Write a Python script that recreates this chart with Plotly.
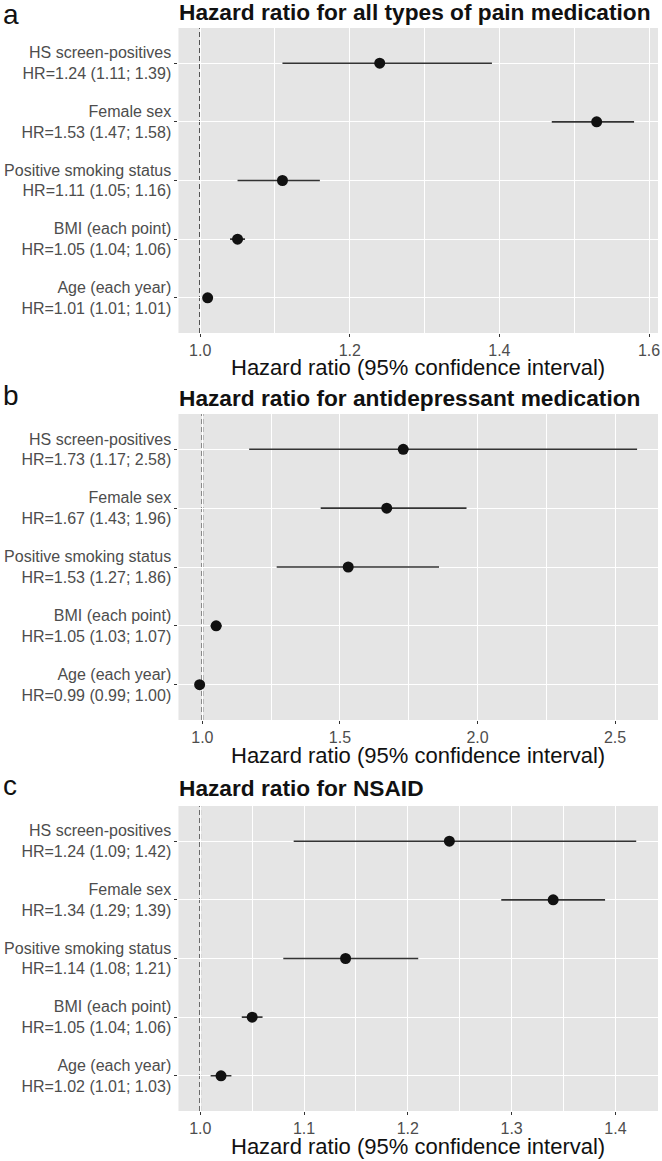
import plotly.graph_objects as go

W, H = 662, 1161

categories = [
    "HS screen-positives",
    "Female sex",
    "Positive smoking status",
    "BMI (each point)",
    "Age (each year)",
]

# Panel a: all types of pain medication
a_hr = [1.24, 1.53, 1.11, 1.05, 1.01]
a_lo = [1.11, 1.47, 1.05, 1.04, 1.01]
a_hi = [1.39, 1.58, 1.16, 1.06, 1.01]

# Panel b: antidepressant medication
b_hr = [1.73, 1.67, 1.53, 1.05, 0.99]
b_lo = [1.17, 1.43, 1.27, 1.03, 0.99]
b_hi = [2.58, 1.96, 1.86, 1.07, 1.00]

# Panel c: NSAID
c_hr = [1.24, 1.34, 1.14, 1.05, 1.02]
c_lo = [1.09, 1.29, 1.08, 1.04, 1.01]
c_hi = [1.42, 1.39, 1.21, 1.06, 1.03]

panels = [
    dict(letter="a", title="Hazard ratio for all types of pain medication",
         hr=a_hr, lo=a_lo, hi=a_hi, rng=[0.971, 1.612], dtick=0.2, tick0=1.0,
         top=28, bottom=333, title_y=12, letter_y=15),
    dict(letter="b", title="Hazard ratio for antidepressant medication",
         hr=b_hr, lo=b_lo, hi=b_hi, rng=[0.913, 2.656], dtick=0.5, tick0=1.0,
         top=414, bottom=720, title_y=398, letter_y=396),
    dict(letter="c", title="Hazard ratio for NSAID",
         hr=c_hr, lo=c_lo, hi=c_hi, rng=[0.979, 1.441], dtick=0.1, tick0=1.0,
         top=806, bottom=1111, title_y=788, letter_y=785),
]

FONT = "Liberation Sans, Arial, sans-serif"
TXT = "#4d4d4d"
X0, X1 = 179, 660

fig = go.Figure()
annotations = []
shapes = []

for i, p in enumerate(panels):
    n = "" if i == 0 else str(i + 1)
    xa, ya = "x" + n, "y" + n
    labels = [f"{c}<br>HR={h:.2f} ({l:.2f}; {u:.2f})"
              for c, h, l, u in zip(categories, p["hr"], p["lo"], p["hi"])]
    fig.add_trace(go.Scatter(
        x=p["hr"], y=labels, mode="markers",
        marker=dict(color="#111111", size=11),
        error_x=dict(type="data", symmetric=False,
                     array=[u - h for h, u in zip(p["hr"], p["hi"])],
                     arrayminus=[h - l for h, l in zip(p["hr"], p["lo"])],
                     color="#333333", thickness=1.6, width=0),
        xaxis=xa, yaxis=ya, showlegend=False, hoverinfo="skip",
    ))
    shapes.append(dict(type="line", xref=xa, yref=ya + " domain",
                       x0=1, x1=1, y0=0, y1=1, layer="below",
                       line=dict(color="#000000", width=1.6, dash="5px,3px")))
    ydom = [1 - p["bottom"] / H, 1 - p["top"] / H]
    xdom = [X0 / W, X1 / W]
    fig.layout["xaxis" + n] = dict(
        domain=xdom, anchor=ya, range=p["rng"], tick0=p["tick0"], dtick=p["dtick"],
        tickformat=".1f", showgrid=True, gridcolor="white", gridwidth=1.4,
        minor=dict(showgrid=True, gridcolor="white", gridwidth=0.7,
                   dtick=p["dtick"] / 2, tick0=p["tick0"]),
        ticks="outside", ticklen=3, tickcolor="#333333", tickwidth=1,
        tickfont=dict(family=FONT, size=16, color=TXT),
        ticklabeloverflow="allow",
        zeroline=False, showline=False,
    )
    fig.layout["yaxis" + n] = dict(
        domain=ydom, anchor=xa, type="category",
        categoryorder="array", categoryarray=labels,
        range=[len(labels) - 0.4, -0.6],
        showgrid=True, gridcolor="white", gridwidth=1.4,
        ticks="outside", ticklen=3, tickcolor="#333333", tickwidth=1,
        tickfont=dict(family=FONT, size=16, color=TXT),
        zeroline=False, showline=False,
    )
    annotations.append(dict(text=p["letter"], xref="paper", yref="paper",
                            x=1 / W, y=1 - p["letter_y"] / H,
                            xanchor="left", yanchor="middle", showarrow=False,
                            font=dict(family=FONT, size=28, color="#111111")))
    annotations.append(dict(text="<b>" + p["title"] + "</b>", xref="paper", yref="paper",
                            x=(X0 - 1) / W, y=1 - p["title_y"] / H,
                            xanchor="left", yanchor="middle", showarrow=False,
                            font=dict(family=FONT, size=22.7, color="#111111")))
    annotations.append(dict(text="Hazard ratio (95% confidence interval)",
                            xref="paper", yref="paper",
                            x=(X0 + X1) / 2 / W, y=1 - (p["bottom"] + 35) / H,
                            xanchor="center", yanchor="middle", showarrow=False,
                            font=dict(family=FONT, size=22, color="#111111")))

fig.update_layout(
    width=W, height=H, margin=dict(l=0, r=0, t=0, b=0),
    paper_bgcolor="white", plot_bgcolor="#e5e5e5",
    annotations=annotations, shapes=shapes,
)

fig.write_html("out.html",
               config={"displayModeBar": False},
               post_script="document.body.style.margin='0';document.body.style.padding='0';")
